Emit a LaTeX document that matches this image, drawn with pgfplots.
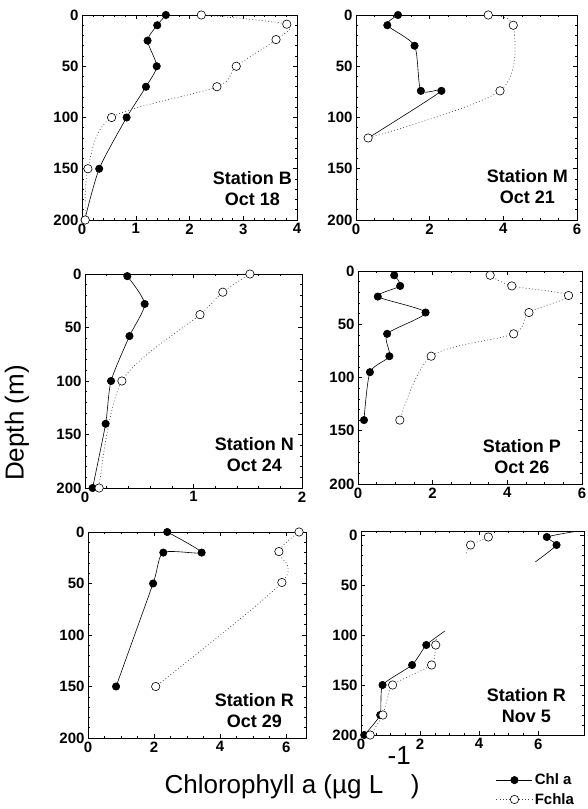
\documentclass[border=0pt]{standalone}
\usepackage{fontspec}
\setmainfont{Liberation Sans}
\usepackage{pgfplots}
\pgfplotsset{compat=1.18}

\pgfplotsset{
  panel/.style={
    scale only axis, anchor=south west,
    y dir=reverse, ymin=0, ymax=200, ytick={0,50,...,200},
    minor y tick num=4, minor x tick num=3,
    tick align=inside, xtick pos=both, ytick pos=both,
    xticklabel pos=lower, yticklabel pos=left,
    major tick length=4pt, minor tick length=2pt,
    every tick/.style={black, line width=0.5pt},
    axis line style={line width=0.7pt},
    ticklabel style={font=\bfseries\fontsize{15}{15}\selectfont},
    /pgf/number format/assume math mode=true,
  },
  chl/.style={black, line width=0.6pt, smooth, tension=0.4,
    mark=*, mark size=3.7pt, mark options={solid, fill=black}},
  fch/.style={black!75, line width=0.7pt, dash pattern=on 0.8pt off 2.4pt,
    smooth, tension=0.5,
    mark=*, mark size=4.2pt, mark options={solid, draw=black, fill=white, line width=0.6pt}},
}
\tikzset{
  stn/.style={anchor=south east, align=center, inner sep=0pt,
    font=\bfseries\fontsize{18}{21}\selectfont},
}

\begin{document}
\begin{tikzpicture}
\path[use as bounding box] (0,0) rectangle (588pt,809pt);

% Station B
\begin{axis}[panel, at={(82pt,589pt)}, width=215pt, height=205pt,
  xmin=0, xmax=4, xtick={0,1,2,3,4}, minor x tick num=4]
  \addplot[chl] coordinates {(1.56,0)(1.40,10)(1.22,25)(1.39,50)(1.19,70)(0.83,100)(0.32,150)(0.05,200)};
  \addplot[fch] coordinates {(2.22,0)(3.81,9)(3.61,24)(2.87,50)(2.51,70)(0.55,100)(0.11,150)(0.06,200)};
  \node[stn] at (axis description cs:1,0) [xshift=-5pt, yshift=14pt] {Station B\\Oct 18};
\end{axis}

% Station M
\begin{axis}[panel, at={(356pt,589pt)}, width=221pt, height=205pt,
  xmin=0, xmax=6, xtick={0,2,4,6}]
  \addplot[chl] coordinates {(1.14,0)(0.85,10)(1.59,30)(1.76,74)(2.32,74)(0.33,120)};
  \addplot[fch] coordinates {(3.59,0)(4.27,10)(3.91,74)(0.33,120)};
  \node[stn] at (axis description cs:1,0) [xshift=-9pt, yshift=16pt] {Station M\\Oct 21};
\end{axis}

% Station N
\begin{axis}[panel, at={(85pt,321pt)}, width=217pt, height=214pt,
  xmin=0, xmax=2, xtick={0,1,2}, minor x tick num=4]
  \addplot[chl] coordinates {(0.39,2)(0.55,28)(0.41,58)(0.24,100)(0.19,140)(0.07,200)};
  \addplot[fch] coordinates {(1.52,0)(1.27,17)(1.06,38)(0.34,100)(0.13,200)};
  \node[stn] at (axis description cs:1,0) [xshift=-8pt, yshift=16pt] {Station N\\Oct 24};
\end{axis}

% Station P
\begin{axis}[panel, at={(358pt,325pt)}, width=224pt, height=213pt,
  xmin=0, xmax=6, xtick={0,2,4,6}]
  \addplot[chl] coordinates {(0.97,4)(1.13,14)(0.53,24)(1.81,39)(0.78,59)(0.84,80)(0.32,95)(0.16,140)};
  \addplot[fch] coordinates {(3.54,4)(4.12,14)(5.64,23)(4.58,39)(4.17,59)(1.96,80)(1.12,140)};
  \node[stn] at (axis description cs:1,0) [xshift=-21pt, yshift=10pt] {Station P\\Oct 26};
\end{axis}

% Station R, Oct 29
\begin{axis}[panel, at={(88pt,71pt)}, width=218pt, height=206pt,
  xmin=0, xmax=6.6, xtick={0,2,4,6}]
  \addplot[chl] coordinates {(2.40,0)(3.44,20)(2.28,20)(1.97,50)(0.85,150)};
  \addplot[fch] coordinates {(6.39,0)(5.78,19)(5.87,49)(2.05,150)};
  \node[stn] at (axis description cs:1,0) [xshift=-12pt, yshift=10pt] {Station R\\Oct 29};
\end{axis}

% Station R, Nov 5
\begin{axis}[panel, at={(361pt,74pt)}, width=223pt, height=204pt,
  xmin=0, xmax=7.55, ymin=-4, xtick={0,2,4,6}, unbounded coords=jump,
  legend style={at={(axis description cs:0.965,-0.18)}, anchor=north east,
    draw=none, fill=none, inner sep=0pt, row sep=3pt,
    font=\bfseries\fontsize{15}{15}\selectfont},
  legend cell align=left,
  legend image code/.code={\draw[mark repeat=2, mark phase=2]
    plot coordinates {(0pt,0pt)(18pt,0pt)(36pt,0pt)};}]
  \addplot[chl, no marks, tension=0.3, forget plot] coordinates {(7.35,-4)(6.29,2)(6.62,10)(5.9,27)(nan,nan)(2.84,96)(2.21,110)(1.73,130)(0.73,150)(0.65,180)(0.11,200)};
  \addplot[chl, only marks, forget plot] coordinates {(6.29,2)(6.62,10)(2.21,110)(1.73,130)(0.73,150)(0.65,180)(0.11,200)};
  \addplot[fch, no marks, tension=0.3, forget plot] coordinates {(4.45,-4)(4.31,2)(3.71,10)(3.55,20)(nan,nan)(2.55,104)(2.53,110)(2.39,130)(1.07,150)(0.74,180)(0.31,200)};
  \addplot[fch, only marks, forget plot] coordinates {(4.31,2)(3.71,10)(2.53,110)(2.39,130)(1.07,150)(0.74,180)(0.31,200)};
  \node[stn] at (axis description cs:1,0) [xshift=-18pt, yshift=12pt] {Station R\\Nov 5};
  \addlegendimage{chl, sharp plot}
  \addlegendentry{Chl a}
  \addlegendimage{fch, sharp plot}
  \addlegendentry{Fchla}
\end{axis}

\node[rotate=90, anchor=center, font=\fontsize{26}{26}\selectfont] at (17pt,386pt) {Depth (m)};
\node[anchor=base, font=\fontsize{26}{26}\selectfont] at (292pt,16pt)
  {Chlorophyll a (µg L\,\raisebox{28pt}{-1})};
\end{tikzpicture}
\end{document}
